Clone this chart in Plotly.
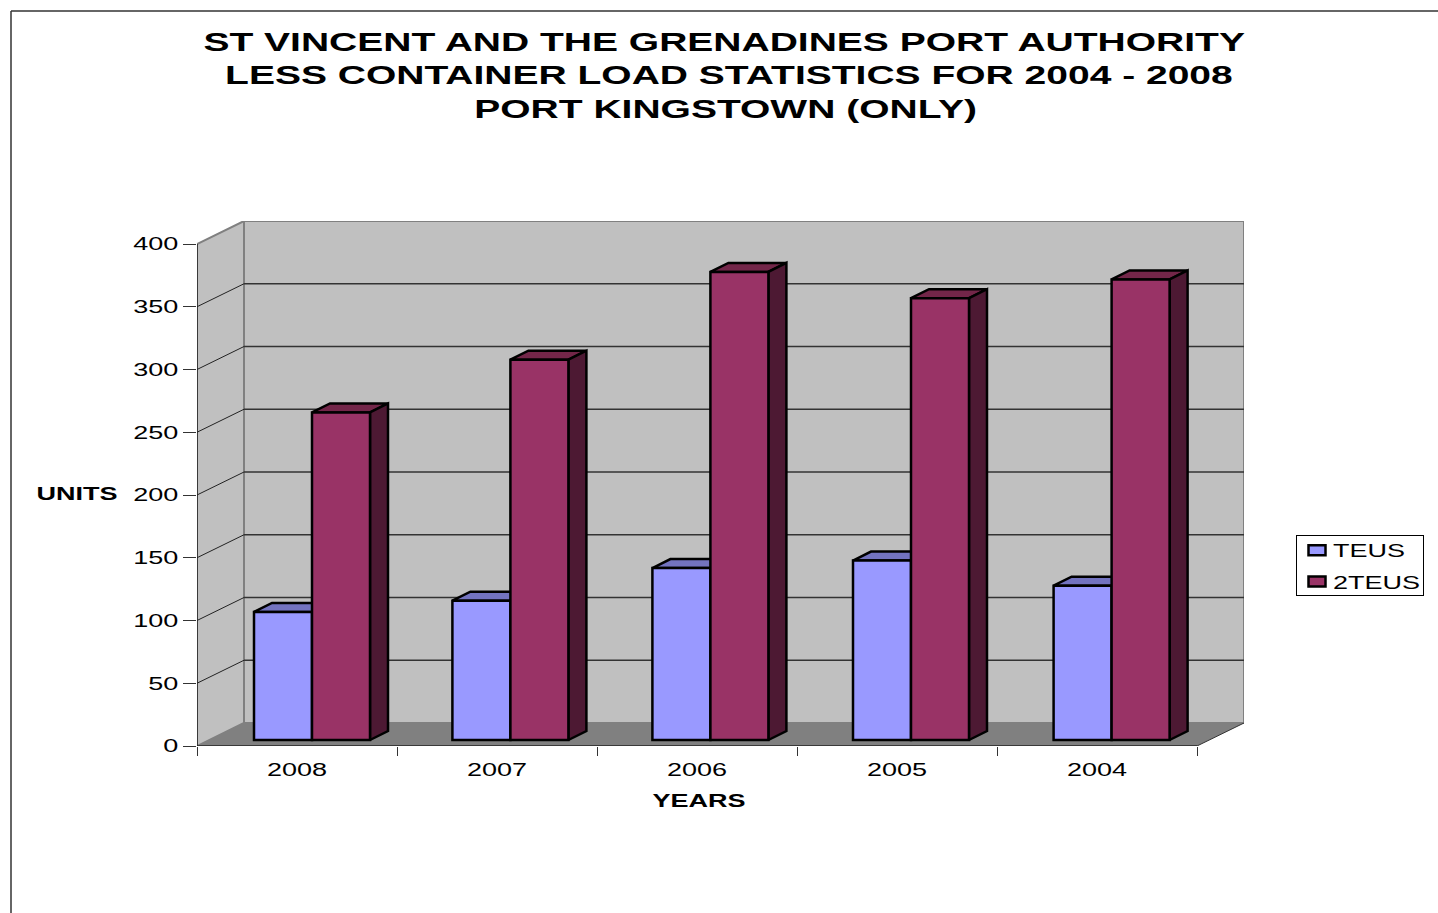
import plotly.graph_objects as go

# ---- data ----
years = ["2008", "2007", "2006", "2005", "2004"]
teus = [102, 111, 137, 143, 123]
two_teus = [261, 303, 373, 352, 367]
y_ticks = [0, 50, 100, 150, 200, 250, 300, 350, 400]
title_lines = ["ST VINCENT AND THE GRENADINES PORT AUTHORITY",
               "LESS CONTAINER LOAD STATISTICS FOR 2004 - 2008",
               "PORT KINGSTOWN (ONLY)"]

# ---- layout constants ----
W, H = 1438, 913
FONT = "Liberation Sans"
PX_X, PX_Y = 200.0, 1.255          # pixels per x unit / per y unit
DX, DY = 47 / PX_X, 23 / PX_Y      # wall depth in data units
BAR_W = 0.29
BASE = 6.0 / PX_Y
BX, BY = 18 / PX_X, 9 / PX_Y       # bar depth
LINE_W = 2.5
GROUP_OFFSET = [0.285, 0.277, 0.277, 0.28, 0.283]
n = len(years)
ymax = y_ticks[-1]


def fx(p):
    return p / W


def fy(p):
    return 1 - p / H


def faces(lefts, vals, colour_top, colour_side):
    top_x, top_y, side_x, side_y = [], [], [], []
    for l, v in zip(lefts, vals):
        r, t = l + BAR_W, BASE + v
        top_x += [l, l + BX, r + BX, r, l, None]
        top_y += [t, t + BY, t + BY, t, t, None]
        side_x += [r, r + BX, r + BX, r, r, None]
        side_y += [BASE, BASE + BY, t + BY, t, BASE, None]
    out = []
    for xs, ys, c in ((top_x, top_y, colour_top), (side_x, side_y, colour_side)):
        out.append(go.Scatter(x=xs, y=ys, mode="lines", fill="toself", fillcolor=c,
                              line=dict(color="black", width=LINE_W), showlegend=False,
                              hoverinfo="skip", zorder=0))
    return out


left_a = [i + GROUP_OFFSET[i] for i in range(n)]
left_b = [l + BAR_W for l in left_a]

fig = go.Figure()
for tr in faces(left_a, teus, "#7373C0", "#7373C0"):
    fig.add_trace(tr)
for tr in faces(left_b, two_teus, "#732649", "#4D1933"):
    fig.add_trace(tr)
fig.add_trace(go.Bar(name="TEUS", x=[l + BAR_W / 2 for l in left_a], y=teus, base=BASE, width=BAR_W,
                     marker=dict(color="#9999FF", line=dict(color="black", width=LINE_W)), zorder=1))
fig.add_trace(go.Bar(name="2TEUS", x=[l + BAR_W / 2 for l in left_b], y=two_teus, base=BASE, width=BAR_W,
                     marker=dict(color="#993366", line=dict(color="black", width=LINE_W)), zorder=2))

shapes = [
    # back wall, left wall, floor
    dict(type="rect", x0=DX, x1=DX + n, y0=DY, y1=ymax + DY, fillcolor="#C0C0C0",
         line=dict(color="#808080", width=2), layer="below"),
    dict(type="path", path=f"M0,0 L{DX},{DY} L{DX},{ymax + DY} L0,{ymax} Z", fillcolor="#C0C0C0",
         line=dict(color="#808080", width=2), layer="below"),
    dict(type="path", path=f"M0,0 L{DX},{DY} L{DX + n},{DY} L{n},0 Z", fillcolor="#808080",
         line=dict(width=0), layer="below"),
]
for v in y_ticks[1:-1]:
    shapes.append(dict(type="line", x0=0, y0=v, x1=DX, y1=v + DY, line=dict(color="#222222", width=1), layer="below"))
    shapes.append(dict(type="line", x0=DX, y0=v + DY, x1=DX + n, y1=v + DY, line=dict(color="#333333", width=1.5), layer="below"))
shapes += [
    dict(type="line", x0=0, y0=0, x1=0, y1=ymax, line=dict(color="#222222", width=1.5), layer="below"),
    dict(type="line", x0=0, y0=0, x1=n, y1=0, line=dict(color="#222222", width=1.5), layer="below"),
    dict(type="line", x0=n, y0=0, x1=n + DX, y1=DY, line=dict(color="#333333", width=1), layer="below"),
    # outer frame of the picture
    dict(type="line", xref="paper", yref="paper", x0=fx(11), x1=1, y0=fy(11), y1=fy(11), line=dict(color="#333333", width=1.5)),
    dict(type="line", xref="paper", yref="paper", x0=fx(11), x1=fx(11), y0=fy(11), y1=0, line=dict(color="#333333", width=1.5)),
]

annotations = []
for text, cx, cy in zip(title_lines, (724, 729, 725), (42, 75, 109)):
    annotations.append(dict(text=f"<b>{text}</b>", x=fx(cx), y=fy(cy), xref="paper", yref="paper",
                            showarrow=False, xanchor="center", yanchor="middle",
                            font=dict(family=FONT, size=26, color="black")))
annotations.append(dict(text="<b>UNITS</b>", x=fx(77), y=fy(494), xref="paper", yref="paper", showarrow=False,
                        xanchor="center", yanchor="middle", font=dict(family=FONT, size=18, color="black")))
annotations.append(dict(text="<b>YEARS</b>", x=fx(699), y=fy(801), xref="paper", yref="paper", showarrow=False,
                        xanchor="center", yanchor="middle", font=dict(family=FONT, size=18, color="black")))

fig.update_layout(
    width=W, height=H, margin=dict(l=0, r=0, t=0, b=0, autoexpand=False), autosize=False,
    paper_bgcolor="white", plot_bgcolor="white", barmode="overlay", showlegend=True,
    font=dict(family=FONT, size=18, color="black"),
    shapes=shapes, annotations=annotations,
    xaxis=dict(domain=[fx(197), fx(1244)], range=[0, n + DX], showgrid=False, zeroline=False, showline=False,
               tickmode="array", tickvals=[i + 0.5 for i in range(n)], ticktext=years, ticks="", ticklabelstandoff=11,
               tickfont=dict(family=FONT, size=18, color="black"),
               minor=dict(tickmode="array", tickvals=list(range(n + 1)), ticks="outside", ticklen=9,
                          tickcolor="#333333", tickwidth=1, showgrid=False)),
    yaxis=dict(domain=[fy(746), fy(221)], range=[0, ymax + DY], showgrid=False, zeroline=False, showline=False,
               tickmode="array", tickvals=y_ticks, ticks="outside", ticklen=13, tickcolor="#333333", tickwidth=1,
               ticklabelstandoff=1, tickfont=dict(family=FONT, size=18, color="black")),
    legend=dict(x=fx(1296), y=fy(535), xanchor="left", yanchor="top", bordercolor="black", borderwidth=1,
                bgcolor="white", traceorder="normal", font=dict(family=FONT, size=18, color="black")),
)

# The reference's lettering is stretched sideways: widen each text element's glyphs,
# then fit the legend box round its stretched entries.
post = """
document.body.style.margin = '0';
document.body.style.overflow = 'hidden';
document.querySelectorAll('svg.main-svg text').forEach(function (t) {
  if (!(t.textContent || '').trim()) return;
  t.setAttribute('textLength', t.getComputedTextLength() * 1.5);
  t.setAttribute('lengthAdjust', 'spacingAndGlyphs');
});
var lg = document.querySelector('g.legend');
if (lg) {
  var bg = lg.querySelector('rect.bg');
  bg.setAttribute('width', 127);
  bg.setAttribute('height', 60);
  var sb = lg.querySelector('.scrollbox');
  if (sb) sb.removeAttribute('clip-path');
  var rows = lg.querySelectorAll('g.traces');
  var shift = [-4, 1];
  rows.forEach(function (r, i) {
    var m = /translate\\(([^,]+),\\s*([^)]+)\\)/.exec(r.getAttribute('transform') || '');
    if (m) r.setAttribute('transform', 'translate(' + m[1] + ',' + (parseFloat(m[2]) + shift[i]) + ')');
    var tx = r.querySelector('text');
    if (tx) tx.setAttribute('x', parseFloat(tx.getAttribute('x') || 0) - 4);
    var p = r.querySelector('.legendbar path, .legendpoints path');
    if (p) p.setAttribute('d', 'M8.5,5H-8.5V-5H8.5Z');
  });
}
"""
fig.write_html("out.html", post_script=post, config={"displayModeBar": False})
